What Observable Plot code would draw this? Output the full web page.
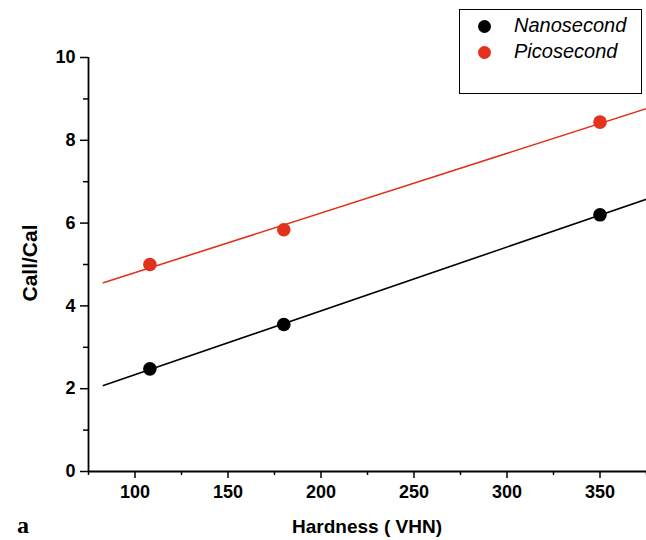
<!DOCTYPE html>
<html>
<head>
<meta charset="utf-8">
<script src="https://cdn.jsdelivr.net/npm/d3@7"></script>
<script src="https://cdn.jsdelivr.net/npm/@observablehq/plot@0.6"></script>
<style>
  html, body { margin: 0; padding: 0; background: #fff; }
  #wrap { position: relative; width: 646px; height: 540px; font-family: "Liberation Sans", Arial, sans-serif; }
  #wrap svg g text, #wrap svg text { font-size: 18px !important; font-weight: bold !important; }
  #legend { position: absolute; left: 459px; top: 9px; width: 183px; height: 85px; border: 1.3px solid #000; box-sizing: border-box; background: #fff; }
  .li { position: absolute; left: 0; font-style: italic; font-size: 20px; }
  .dot { position: absolute; width: 13px; height: 13px; border-radius: 50%; }
  .lab { position: absolute; white-space: nowrap; }
</style>
</head>
<body>
<div id="wrap"></div>
<script>
const hardness = [108, 180, 350];
const nanosecond = [2.48, 3.55, 6.2];
const picosecond = [5.0, 5.84, 8.44];
const seriesNames = ["Nanosecond", "Picosecond"];
const seriesColors = ["#000000", "#e2321c"];
const fitRange = [83, 375];
const xMajor = [100, 150, 200, 250, 300, 350];
const xMinor = [75, 125, 175, 225, 275, 325, 375];
const yMajor = [0, 2, 4, 6, 8, 10];
const yMinor = [1, 3, 5, 7, 9];

function fit(xs, ys) {
  const mx = d3.mean(xs), my = d3.mean(ys);
  const sxy = d3.sum(xs, (x, i) => (x - mx) * (ys[i] - my));
  const sxx = d3.sum(xs, x => (x - mx) ** 2);
  const b = sxy / sxx, a = my - b * mx;
  return fitRange.map(x => ({x, y: a + b * x}));
}

const series = [nanosecond, picosecond];
const pts = [];
series.forEach((vals, s) => hardness.forEach((h, i) => pts.push({x: h, y: vals[i], s})));
const fits = series.map((vals, s) => fit(hardness, vals).map(d => ({...d, s})));

const chart = Plot.plot({
  width: 646,
  height: 540,
  marginLeft: 88,
  marginRight: 0,
  marginTop: 57,
  marginBottom: 69,
  style: {fontFamily: "Liberation Sans, Arial, sans-serif", fontSize: "18px", fontWeight: "bold", color: "#000", background: "#fff"},
  x: {domain: [75, 375]},
  y: {domain: [0, 10]},
  marks: [
    Plot.axisX(xMajor, {tickSize: 7, tickPadding: 7, strokeWidth: 1.5, label: null, fontSize: 18, fontWeight: "bold"}),
    Plot.axisX(xMinor, {tickSize: 4, tickFormat: () => "", strokeWidth: 1.5, label: null}),
    Plot.axisY(yMajor, {tickSize: 8, tickPadding: 5, strokeWidth: 1.5, label: null, fontSize: 18, fontWeight: "bold"}),
    Plot.axisY(yMinor, {tickSize: 5, tickFormat: () => "", strokeWidth: 1.5, label: null}),
    Plot.ruleX([75], {strokeWidth: 1.8}),
    Plot.ruleY([0], {strokeWidth: 1.8}),
    ...fits.map((f, s) => Plot.line(f, {x: "x", y: "y", stroke: seriesColors[s], strokeWidth: 1.6, clip: true})),
    Plot.dot(pts, {x: "x", y: "y", r: 6.8, fill: d => seriesColors[d.s], stroke: "none"})
  ]
});

const wrap = document.getElementById("wrap");
wrap.appendChild(chart);

function addLabel(text, css) {
  const el = document.createElement("div");
  el.className = "lab";
  el.textContent = text;
  Object.assign(el.style, css);
  wrap.appendChild(el);
  return el;
}
addLabel("Hardness ( VHN)", {left: "367px", top: "516px", transform: "translateX(-50%)", fontWeight: "bold", fontSize: "19px"});
addLabel("Call/Cal", {left: "30px", top: "263px", transform: "translate(-50%,-50%) rotate(-90deg)", fontWeight: "bold", fontSize: "21px"});
addLabel("a", {left: "17px", top: "512px", fontWeight: "bold", fontSize: "24px", fontFamily: "Liberation Serif, Times New Roman, serif"});

const legend = document.createElement("div");
legend.id = "legend";
seriesNames.forEach((name, i) => {
  const dot = document.createElement("div");
  dot.className = "dot";
  dot.style.background = seriesColors[i];
  dot.style.left = "18px";
  dot.style.top = (10 + i * 26) + "px";
  legend.appendChild(dot);
  const t = document.createElement("div");
  t.className = "lab li";
  t.textContent = name;
  t.style.left = "54px";
  t.style.top = (4 + i * 26) + "px";
  legend.appendChild(t);
});
wrap.appendChild(legend);
</script>
</body>
</html>
